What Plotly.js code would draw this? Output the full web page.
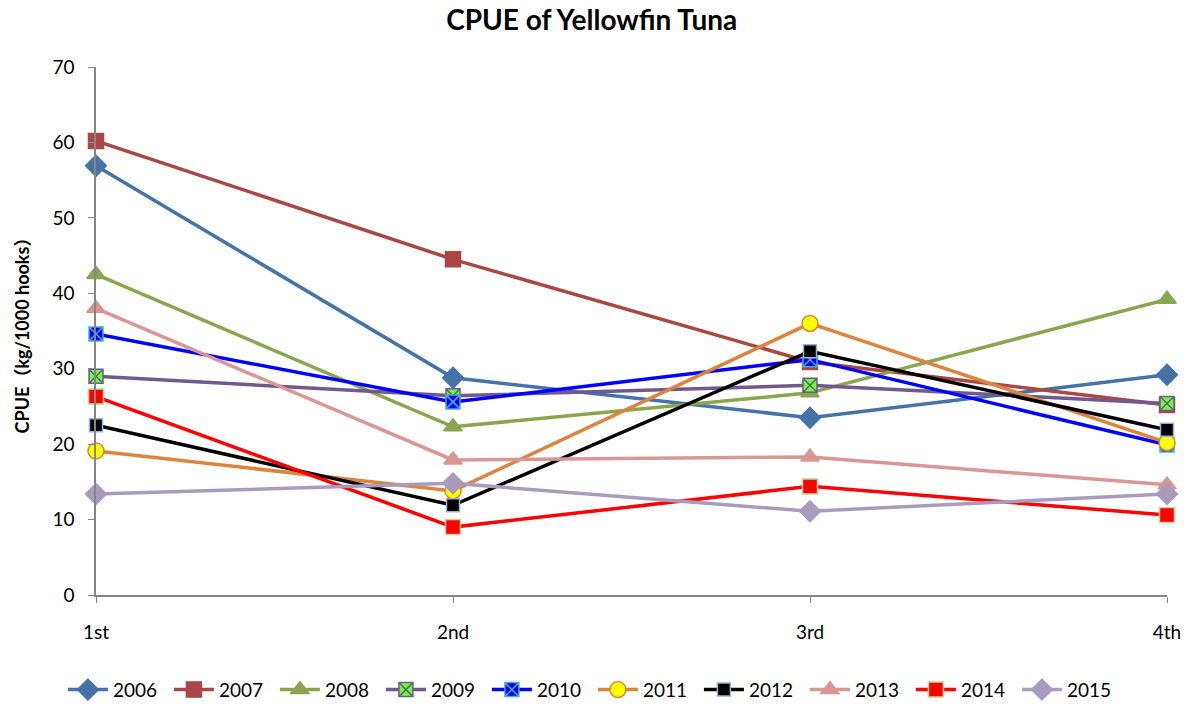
<!DOCTYPE html>
<html>
<head>
<meta charset="utf-8">
<script src="https://cdn.plot.ly/plotly-3.0.1.min.js"></script>
<style>html,body{margin:0;padding:0;background:#fff;}#chart{width:1193px;height:706px;}</style>
</head>
<body>
<div id="chart"></div>
<script>
const quarters = ["1st", "2nd", "3rd", "4th"];
const years = ["2006","2007","2008","2009","2010","2011","2012","2013","2014","2015"];
const v2006 = [56.9, 28.8, 23.5, 29.2];
const v2007 = [60.2, 44.5, 30.9, 25.2];
const v2008 = [42.5, 22.3, 26.8, 39.2];
const v2009 = [29.0, 26.4, 27.8, 25.4];
const v2010 = [34.6, 25.6, 31.2, 19.9];
const v2011 = [19.1, 13.8, 36.0, 20.2];
const v2012 = [22.5, 11.9, 32.3, 21.9];
const v2013 = [38.0, 17.9, 18.3, 14.6];
const v2014 = [26.3, 9.0, 14.4, 10.6];
const v2015 = [13.4, 14.8, 11.1, 13.4];

const values = [v2006, v2007, v2008, v2009, v2010, v2011, v2012, v2013, v2014, v2015];
const styles = [
  {line:"#4572A7", sym:"diamond", fill:"#4572A7", edge:"#4572A7", size:16},
  {line:"#AA4643", sym:"square", fill:"#AA4643", edge:"#AA4643", size:15},
  {line:"#89A54E", sym:"triangle-up", fill:"#89A54E", edge:"#89A54E", size:16},
  {line:"#71588F", sym:"square-x", fill:"#66FF33", edge:"#71588F", size:14},
  {line:"#0000FF", sym:"square-x", fill:"#0000FF", edge:"#4BACC6", size:14},
  {line:"#DB843D", sym:"circle", fill:"#FFFF00", edge:"#DB843D", size:16},
  {line:"#000000", sym:"square", fill:"#000000", edge:"#95B3D7", size:13},
  {line:"#D99694", sym:"triangle-up", fill:"#D99694", edge:"#D99694", size:16},
  {line:"#FF0000", sym:"square", fill:"#FF0000", edge:"#C3D69B", size:15},
  {line:"#A99BBD", sym:"diamond", fill:"#A99BBD", edge:"#A99BBD", size:16}
];

const font = "Lato, 'Noto Sans CJK SC', sans-serif";
const traces = years.map((y, i) => ({
  type: "scatter",
  mode: "lines+markers",
  name: y,
  x: quarters,
  y: values[i],
  line: {color: styles[i].line, width: 3.5},
  marker: {symbol: styles[i].sym, color: styles[i].fill, size: styles[i].size,
           line: {color: styles[i].edge, width: 1.5}},
  cliponaxis: false
}));

const layout = {
  width: 1193, height: 706,
  margin: {l: 96, r: 26, t: 67, b: 111, autoexpand: false},
  paper_bgcolor: "#fff", plot_bgcolor: "#fff",
  font: {family: font, color: "#000", size: 19},
  title: {text: "<b>CPUE of Yellowfin Tuna</b>", x: 0.496, xanchor: "center", y: 0.972, yanchor: "middle",
          font: {family: font, size: 28, color: "#000"}},
  xaxis: {
    type: "category", range: [0, 3], showgrid: false, zeroline: false,
    showline: true, linecolor: "#868686", linewidth: 1.5,
    ticks: "outside", ticklen: 6, tickcolor: "#868686",
    ticklabelstandoff: 13,
    tickfont: {family: font, size: 19, color: "#000"}
  },
  yaxis: {
    range: [0, 70], dtick: 10, showgrid: false, zeroline: false,
    showline: true, linecolor: "#868686", linewidth: 1.5,
    ticks: "outside", ticklen: 6, tickcolor: "#868686",
    ticklabelstandoff: 10,
    tickfont: {family: font, size: 19, color: "#000"},
    title: {text: "<b>CPUE（kg/1000 hooks）</b>", standoff: 18, font: {family: font, size: 18, color: "#000"}}
  },
  showlegend: true,
  legend: {orientation: "h", xref: "container", yref: "container", x: 0.497, xanchor: "center", y: 0.023, yanchor: "middle",
           font: {family: font, size: 19, color: "#000"},
           entrywidth: 51, entrywidthmode: "pixels", itemwidth: 40, traceorder: "normal"}
};

Plotly.newPlot("chart", traces, layout, {displayModeBar: false, responsive: false});
</script>
</body>
</html>
